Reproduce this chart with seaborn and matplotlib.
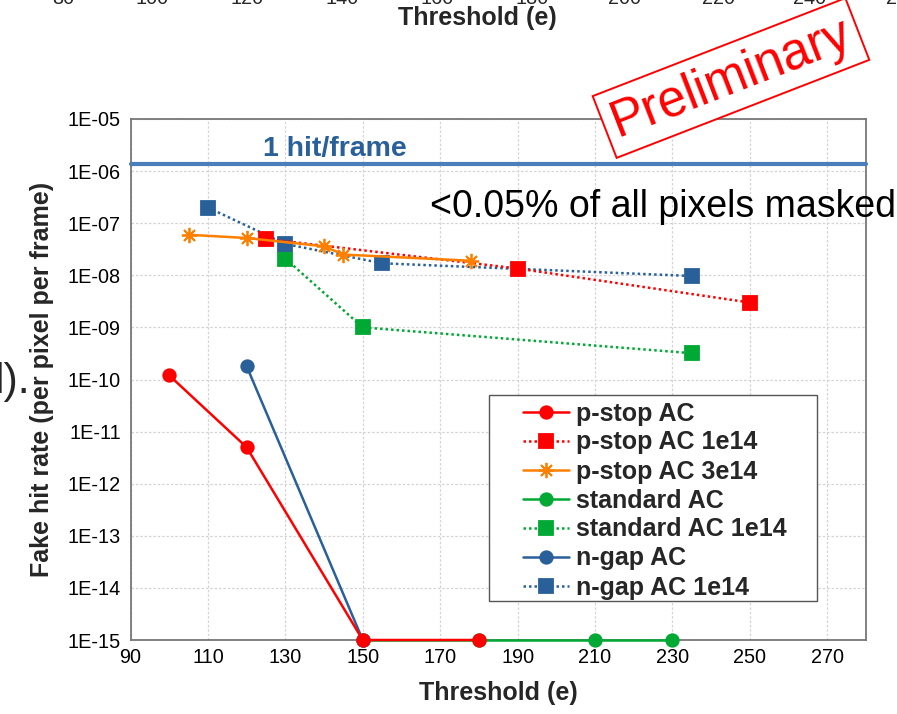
import numpy as np
import pandas as pd
import matplotlib
matplotlib.use("Agg")
import matplotlib.pyplot as plt
import matplotlib.ticker as mticker
from matplotlib.patches import Rectangle
import seaborn as sns

# ---- data ----
pstop_x = [100, 120, 150, 180]
pstop_y = [1.2e-10, 5.0e-12, 1e-15, 1e-15]
pstop1e14_x = [125, 190, 250]
pstop1e14_y = [5.0e-8, 1.35e-8, 3.0e-9]
pstop3e14_x = [105, 120, 140, 145, 178]
pstop3e14_y = [6.0e-8, 5.2e-8, 3.6e-8, 2.5e-8, 1.9e-8]
std_x = [150, 180, 210, 230]
std_y = [1e-15, 1e-15, 1e-15, 1e-15]
std1e14_x = [130, 150, 235]
std1e14_y = [2.1e-8, 1.0e-9, 3.2e-10]
ngap_x = [120, 150]
ngap_y = [1.8e-10, 1e-15]
ngap1e14_x = [110, 130, 155, 235]
ngap1e14_y = [2.0e-7, 4.0e-8, 1.7e-8, 9.7e-9]
hit_level = 1.37e-6
x_ticks = [90, 110, 130, 150, 170, 190, 210, 230, 250, 270]
top_ticks = ["80", "100", "120", "140", "160", "180", "200", "220", "240", "2"]

sns.set_theme(style="white")
plt.rcParams["font.family"] = ["Liberation Sans", "DejaVu Sans"]

W, H = 897, 714
fig = plt.figure(figsize=(W / 100, H / 100), dpi=100)
ax = fig.add_axes([130.5 / W, 1 - 640 / H, (866 - 130.5) / W, (640 - 119) / H])

RED = "#ff0000"
ORANGE = "#ff8000"
GREEN = "#00a933"
BLUE = "#2a6099"
DOT = (0, (1, 1.2))

series = [
    ("p-stop AC", pstop_x, pstop_y, RED, "o", "-", 9, 5),
    ("p-stop AC 1e14", pstop1e14_x, pstop1e14_y, RED, "s", DOT, 10, 4),
    ("p-stop AC 3e14", pstop3e14_x, pstop3e14_y, ORANGE, (8, 2, 0), "-", 11, 4),
    ("standard AC", std_x, std_y, GREEN, "o", "-", 9, 3),
    ("standard AC 1e14", std1e14_x, std1e14_y, GREEN, "s", DOT, 10, 3),
    ("n-gap AC", ngap_x, ngap_y, BLUE, "o", "-", 9, 4),
    ("n-gap AC 1e14", ngap1e14_x, ngap1e14_y, BLUE, "s", DOT, 10, 3),
]
for name, xs, ys, col, mk, ls, ms, z in series:
    df = pd.DataFrame({"x": xs, "y": ys})
    sns.lineplot(data=df, x="x", y="y", ax=ax, color=col, marker=mk, linestyle=ls,
                 linewidth=1.8, markersize=ms, markeredgecolor=col, markeredgewidth=1.3,
                 label=name, estimator=None, sort=False, zorder=z, clip_on=False)

ax.axhline(hit_level, color="#4a7ebb", lw=3.0, zorder=6, clip_on=False)
ax.text(142.8, 1.5e-6, "1 hit/frame", color=BLUE, fontsize=20.5, fontweight="bold",
        ha="center", va="bottom")
ax.text(167.3, 2.05e-7, "<0.05% of all pixels masked", fontsize=27, color="black",
        ha="left", va="center", clip_on=False)

ax.set_yscale("log")
ax.set_ylim(1e-15, 1e-5)
ax.set_xlim(90, 280)
ax.set_xticks(x_ticks)
ax.set_yticks([10.0 ** k for k in range(-15, -4)])
ax.yaxis.set_major_formatter(mticker.FuncFormatter(lambda v, p: "1E" + format(int(round(np.log10(v))), "03d")))
ax.yaxis.set_minor_locator(mticker.NullLocator())
ax.tick_params(axis="y", labelsize=14.3, length=0, pad=7, colors="black")
ax.tick_params(axis="x", labelsize=14.3, length=0, pad=6, colors="black")
ax.grid(True, color="#d4d4d4", linestyle=(0, (2, 1.5)), linewidth=0.9)
for s in ax.spines.values():
    s.set_color("#777777")
    s.set_linewidth(1.3)
ax.set_xlabel("Threshold (e)", fontsize=18, fontweight="bold", labelpad=10)
ax.set_ylabel("Fake hit rate (per pixel per frame)", fontsize=18, fontweight="bold", labelpad=10)

leg = ax.legend(loc="upper left", bbox_to_anchor=(515 / W, 1 - 394 / H),
                bbox_transform=fig.transFigure, borderaxespad=0, frameon=False,
                prop={"size": 18, "weight": "bold"}, labelspacing=0.2,
                handlelength=1.85, handletextpad=0.3, borderpad=0.3)
leg.set_zorder(10)
fig.patches.append(Rectangle((489 / W, 1 - 601 / H), (817 - 489) / W, (601 - 395) / H,
                             transform=fig.transFigure, fc="white", ec="#555555",
                             lw=1.0, zorder=9))
leg.remove()
fig.add_artist(leg)

# remnants of the slide around the chart
for lbl, xp in zip(top_ticks, [63, 152, 247, 342, 437, 532, 624, 718, 810, 891]):
    fig.text(xp / W, 1 + 2 / H, lbl, fontsize=14.3, ha="center", va="center")
fig.text(477 / W, 1 - 18 / H, "Threshold (e)", fontsize=18, fontweight="bold",
         ha="center", va="center")
fig.text(30 / W, 1 - 382 / H, "l).", fontsize=31, ha="right", va="center")
fig.text(731 / W, 1 - 78 / H, "Preliminary", fontsize=36.5, color="#ff0000",
         rotation=21.2, rotation_mode="anchor", ha="center", va="center",
         bbox=dict(boxstyle="square,pad=0.17", fc="white", ec="#ff0000", lw=1.4),
         zorder=20)

fig.savefig("out.png", dpi=100)
